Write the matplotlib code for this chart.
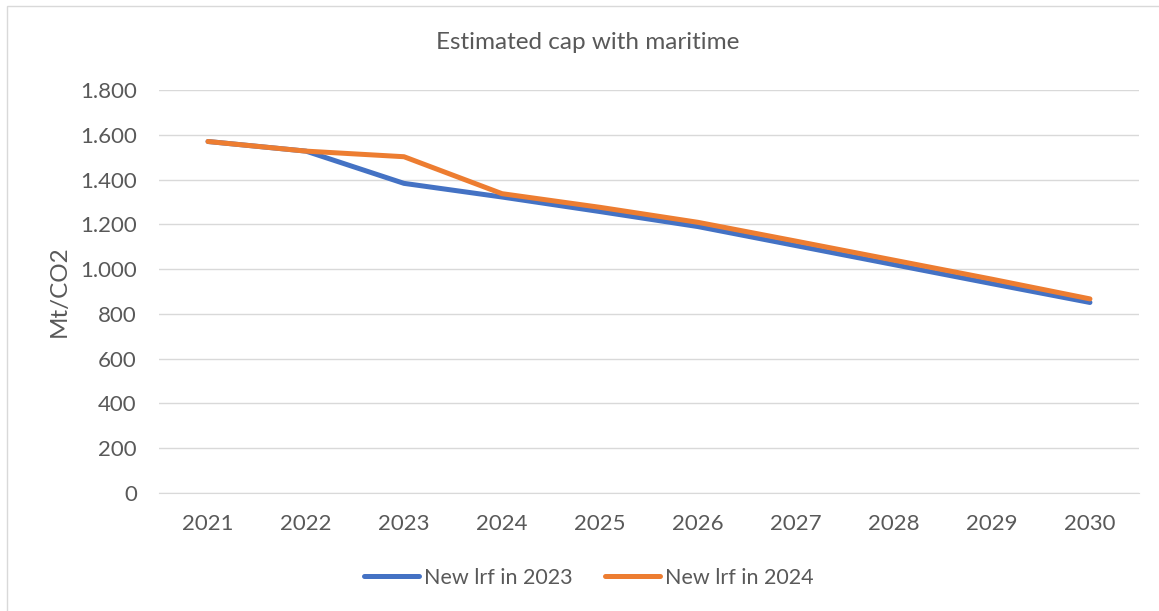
import matplotlib
matplotlib.use('Agg')
import matplotlib.pyplot as plt
from matplotlib.ticker import FuncFormatter, MultipleLocator
from matplotlib.patches import Rectangle

years = ["2021", "2022", "2023", "2024", "2025", "2026", "2027", "2028", "2029", "2030"]
lrf_2023 = [1570, 1527, 1383, 1322, 1257, 1190, 1105, 1020, 935, 851]
lrf_2024 = [1570, 1527, 1502, 1337, 1276, 1209, 1125, 1040, 955, 867]

TEXT_COLOR = "#595959"
plt.rcParams['font.family'] = ['Lato', 'DejaVu Sans']

fig = plt.figure(figsize=(11.59, 6.11), dpi=100)
ax = fig.add_axes([0.1372, 0.1931, 0.8455, 0.6596])

# light frame around the whole chart, like the excel chart area
fig.patches.append(Rectangle((0.006, -0.01), 1.1, 1.0, transform=fig.transFigure,
                             fill=False, edgecolor="#D9D9D9", linewidth=1))

x = list(range(len(years)))
ax.plot(x, lrf_2023, color="#4472C4", linewidth=3.6, solid_capstyle='round',
        solid_joinstyle='round', label="New lrf in 2023", zorder=3)
ax.plot(x, lrf_2024, color="#ED7D31", linewidth=3.6, solid_capstyle='round',
        solid_joinstyle='round', label="New lrf in 2024", zorder=4)

ax.set_xlim(-0.5, len(years) - 0.5)
ax.set_ylim(0, 1800)
ax.yaxis.set_major_locator(MultipleLocator(200))
ax.yaxis.set_major_formatter(FuncFormatter(lambda v, p: f"{int(v):,}".replace(",", ".")))
ax.set_xticks(x)
ax.set_xticklabels(years)

ax.grid(axis='y', color="#D9D9D9", linewidth=1)
ax.set_axisbelow(True)
for s in ["top", "right", "left"]:
    ax.spines[s].set_visible(False)
ax.spines["bottom"].set_color("#D9D9D9")
ax.tick_params(axis='both', length=0, labelsize=16, labelcolor=TEXT_COLOR)
ax.tick_params(axis='y', pad=16)
ax.tick_params(axis='x', pad=15)

ax.set_ylabel("Mt/CO2", fontsize=17.5, color=TEXT_COLOR, labelpad=7)
fig.text(0.507, 0.93, "Estimated cap with maritime", ha='center', va='center',
         fontsize=17.5, color=TEXT_COLOR)

leg = fig.legend(loc='center', bbox_to_anchor=(0.508, 0.054), ncol=2, frameon=False,
                 fontsize=15.5, handlelength=2.55, columnspacing=1.5, handletextpad=0.25)
for t in leg.get_texts():
    t.set_color(TEXT_COLOR)

fig.savefig("out.png", dpi=100)
